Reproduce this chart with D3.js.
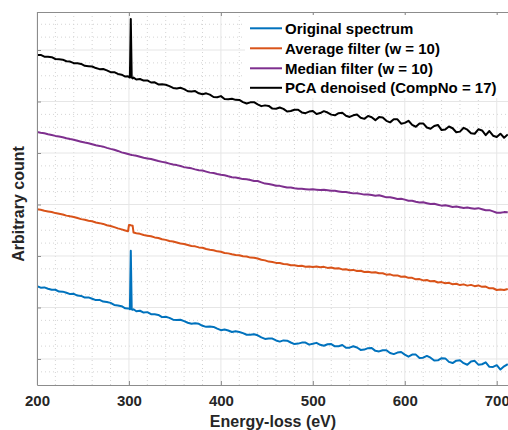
<!DOCTYPE html>
<html>
<head>
<meta charset="utf-8">
<script src="https://cdn.jsdelivr.net/npm/d3@7"></script>
<style>
  html, body { margin: 0; padding: 0; background: #fff; }
  svg { display: block; font-family: "Liberation Sans", Arial, Helvetica, sans-serif; }
</style>
</head>
<body>
<svg id="chart" width="508" height="430"></svg>
<script>
// Energy-loss axis (eV); extra samples around the 302 eV artefact
const energyLoss = [...d3.range(200, 297, 4), 299, 300, 301, 302, 303, 304, 305, ...d3.range(308, 713, 4)];

const originalSpectrum = [
  141.5, 138.5, 139, 136.5, 134.5, 134.5, 131, 130.8, 128.7, 126,
  126.5, 123.2, 122.5, 119.2, 119.6, 117, 114.4, 114.8, 111.5, 110.5,
  109, 105, 104, 102.5, 98.5, 98, 98, 96.5, 210, 96.2,
  95.4, 96.5, 92.8, 93.7, 90.1, 91, 86.9, 86.8, 85.6, 81.3,
  82, 79.9, 76.3, 75.7, 76.1, 73.5, 70.4, 68.3, 69.2, 68.4,
  64.5, 62.4, 63.3, 62.3, 58.9, 56, 57.4, 55.3, 52.4, 53.7,
  52.5, 50.3, 47.1, 46.9, 48.2, 46, 42, 39, 39.9, 39.7,
  36, 33.8, 36.1, 35.5, 32, 29, 29.9, 31.8, 31.8, 27.9,
  29.5, 31.3, 27.6, 25.8, 28.6, 29, 24.7, 24.9, 27.1, 21.8,
  22, 24.7, 22.4, 17.6, 18.3, 21, 21.4, 15.8, 14.7, 17,
  17, 11.5, 9.5, 12.5, 13.5, 8.5, 4.6, 8.7, 8.5, 2,
  2.5, 6, 2.5, -3, -2.5, 1.5, 1.2, -5.6, -7.9, -3.2,
  -2.5, -8.1, -11.2, -4.7, -3.6, -11, -10.2, -6.4, -15.3, -15.4,
  -12, -20.5, -14.3, -10
];

const averageFiltered = [
  291, 289.8, 287.7, 286.5, 285.4, 283.3, 282, 280.6, 278.4, 277,
  275.8, 273.7, 271.6, 270.4, 268.6, 267.4, 265.1, 263.8, 262.3, 259.8,
  258.3, 256, 253.7, 251.7, 249.5, 248, 260, 260, 259.6, 259.4,
  259, 245.5, 244.3, 243, 240.8, 239.5, 238.3, 236.1, 234.9, 232.4,
  231.3, 229.1, 228.3, 226.2, 224.2, 223.3, 221.4, 219.5, 218.7, 216.7,
  215.9, 213.6, 212.3, 211.3, 209, 208.2, 205.9, 205.1, 203.4, 201.9,
  201.5, 199.6, 198.9, 196.9, 196.6, 195, 192.6, 191.5, 189.1, 188.4,
  186.6, 186.4, 184.3, 184, 181.9, 181.9, 180.7, 180.9, 179.3, 179.7,
  178.5, 179.5, 178.2, 178.9, 176.9, 177.5, 175.9, 176.1, 174, 174.2,
  172.4, 173, 170.9, 171.3, 169, 169.6, 168, 168.6, 166.5, 166.5,
  163.7, 164.4, 161.9, 162.3, 159.6, 160.2, 157.6, 157.6, 154.7, 155.1,
  152.6, 153.5, 150.8, 151.4, 148.5, 149.3, 147.1, 147.9, 145.2, 146,
  143.5, 144.9, 142.5, 143.9, 141.4, 142.9, 140.1, 140.7, 137.2, 137.4,
  134, 135, 133.9, 136
];

const medianFiltered = [
  441, 439.5, 438.3, 436.5, 435, 433.2, 432, 430.6, 428.7, 427,
  425.8, 423.7, 421.7, 420.2, 419, 417, 415.1, 413.8, 412.3, 410,
  408, 406.3, 404, 401.2, 399.5, 398, 397.5, 397, 396.6, 396.2,
  395.9, 395.5, 394.6, 392.7, 390.8, 389.5, 388.3, 386.3, 384.3, 382.8,
  381.4, 379.4, 377.5, 376.5, 374.6, 372.6, 371.4, 370.2, 368.2, 366.6,
  365.9, 363.9, 361.9, 361.3, 359.4, 357.7, 356.8, 354.8, 353, 352.5,
  351, 349.3, 349, 347.4, 345.8, 345.5, 343, 340.6, 339.9, 338.2,
  336.5, 336.2, 334.6, 333, 333, 331.5, 330.5, 330.8, 329.8, 328.9,
  329.5, 328.8, 328, 328.8, 327.6, 326.5, 326.8, 325.4, 324.1, 324.3,
  323, 321.6, 322, 320.6, 319.2, 319.5, 318.4, 317.2, 317.9, 316,
  313.9, 314.2, 312.5, 310.8, 311.1, 309.5, 307.4, 307.4, 305.5, 303.9,
  304.2, 302.5, 300.8, 301.3, 299.5, 297.8, 298.5, 296.9, 295.3, 296,
  294.5, 293.1, 294.1, 292.8, 291.6, 292.9, 290.8, 288.7, 289, 286.6,
  284, 284, 285.2, 285
];

const pcaDenoised = [
  590.5, 590.5, 587, 587, 586, 582.5, 582, 581.3, 578.2, 577.5,
  574.5, 574.2, 573, 569.2, 568.6, 568, 564.9, 562.8, 563, 560.5,
  557, 557, 553.5, 552, 548.5, 549, 547.5, 546.5, 660, 546.7,
  544.9, 546.5, 542.8, 543.7, 540.6, 541, 536.9, 537.3, 533.1, 533.3,
  532.5, 529.9, 526.3, 525.2, 526.6, 524, 519.9, 519.3, 520.2, 515.9,
  514, 515.9, 513.3, 508.8, 508.4, 510.5, 504.9, 504.3, 505.4, 503.2,
  503, 498.8, 496.1, 498.4, 498.7, 494.5, 491, 492.5, 491.4, 486.2,
  486, 488.3, 485.6, 480.5, 481.5, 484, 483.9, 478.8, 477.3, 480.4,
  481.5, 475.8, 477.6, 481.3, 478.6, 474.5, 473.2, 477.4, 478.1, 472.3,
  470, 473.2, 474.9, 468.6, 466.3, 472, 469.4, 463.8, 469.7, 469,
  462.5, 459.5, 465.5, 465.5, 457, 458.5, 462.6, 454.7, 451, 457.5,
  457.5, 449.5, 447, 452.5, 454.5, 444.5, 445.7, 451.4, 448.1, 440.3,
  441.5, 448.9, 445.3, 438.3, 437.4, 446, 443.8, 434.6, 442.7, 433.6,
  431, 437.5, 429.7, 436
];

const seriesNames = ["Original spectrum", "Average filter (w = 10)", "Median filter (w = 10)", "PCA denoised (CompNo = 17)"];
const seriesColors = ["#0072BD", "#D95319", "#7E2F8E", "#000000"];
const xTicks = [200, 300, 400, 500, 600, 700];
const yTicks = [0, 100, 200, 300, 400, 500, 600];

const allSeries = [originalSpectrum, averageFiltered, medianFiltered, pcaDenoised];

const svg = d3.select("#chart");
const plotL = 37, plotT = 12, plotR = 511, plotB = 385;

const x = d3.scaleLinear().domain([200, 715.5]).range([plotL, plotR]);
const y = d3.scaleLinear().domain([-50.5, 673.8]).range([plotB, plotT]);

// Minor grid (dotted)
const minorX = d3.range(220, 716, 20).filter(v => v % 100 !== 0);
const minorY = d3.range(-25, 674, 25).filter(v => v % 100 !== 0);
const grid = svg.append("g");
grid.selectAll(".mx").data(minorX).join("line")
  .attr("x1", d => x(d)).attr("x2", d => x(d))
  .attr("y1", plotT).attr("y2", plotB)
  .attr("stroke", "#d4d4d4").attr("stroke-width", 1)
  .attr("stroke-dasharray", "1,3");
grid.selectAll(".my").data(minorY).join("line")
  .attr("x1", plotL).attr("x2", plotR)
  .attr("y1", d => y(d)).attr("y2", d => y(d))
  .attr("stroke", "#d4d4d4").attr("stroke-width", 1)
  .attr("stroke-dasharray", "1,3");
// Major grid
grid.selectAll(".gx").data(xTicks).join("line")
  .attr("x1", d => x(d)).attr("x2", d => x(d))
  .attr("y1", plotT).attr("y2", plotB)
  .attr("stroke", "#e6e6e6").attr("stroke-width", 1);
grid.selectAll(".gy").data(yTicks).join("line")
  .attr("x1", plotL).attr("x2", plotR)
  .attr("y1", d => y(d)).attr("y2", d => y(d))
  .attr("stroke", "#e6e6e6").attr("stroke-width", 1);

// Curves
svg.append("clipPath").attr("id", "plotClip")
  .append("rect").attr("x", plotL).attr("y", plotT)
  .attr("width", plotR - plotL).attr("height", plotB - plotT);

const line = d3.line()
  .x((d, i) => x(energyLoss[i]))
  .y(d => y(d));

const curves = svg.append("g").attr("clip-path", "url(#plotClip)");
allSeries.forEach((s, k) => {
  curves.append("path")
    .datum(s)
    .attr("d", line)
    .attr("fill", "none")
    .attr("stroke", seriesColors[k])
    .attr("stroke-width", 2)
    .attr("stroke-linejoin", "round");
});

// Axes
const axisColor = "#8c8c8c";
const xAxis = svg.append("g").attr("transform", `translate(0,${plotB})`)
  .call(d3.axisBottom(x).tickValues(xTicks).tickSizeInner(-4).tickSizeOuter(0).tickPadding(10));
const xAxisTop = svg.append("g").attr("transform", `translate(0,${plotT})`)
  .call(d3.axisTop(x).tickValues(xTicks).tickSizeInner(-4).tickSizeOuter(0).tickFormat(""));
const yAxis = svg.append("g").attr("transform", `translate(${plotL},0)`)
  .call(d3.axisLeft(y).tickValues(yTicks).tickSizeInner(-4).tickSizeOuter(0).tickFormat(""));
[xAxis, xAxisTop, yAxis].forEach(g => {
  g.select(".domain").attr("stroke", axisColor).attr("stroke-width", 1);
  g.selectAll(".tick line").attr("stroke", axisColor);
});
xAxis.selectAll(".tick text")
  .attr("fill", "#262626")
  .attr("font-size", 15)
  .attr("font-weight", "bold")
  .attr("font-family", "'Liberation Sans', Arial, sans-serif");

// Axis titles
svg.append("text")
  .attr("x", 273).attr("y", 427)
  .attr("text-anchor", "middle")
  .attr("font-size", 16).attr("font-weight", "bold").attr("fill", "#262626")
  .text("Energy-loss (eV)");
svg.append("text")
  .attr("transform", "translate(24,204) rotate(-90)")
  .attr("text-anchor", "middle")
  .attr("font-size", 16).attr("font-weight", "bold").attr("fill", "#262626")
  .text("Arbitrary count");

// Legend
const legend = svg.append("g");
legend.append("rect")
  .attr("x", 245).attr("y", 15).attr("width", 263).attr("height", 83)
  .attr("fill", "#fff");
const rowY = [28.3, 48.3, 68.3, 87.8];
seriesNames.forEach((name, k) => {
  legend.append("line")
    .attr("x1", 250).attr("x2", 282)
    .attr("y1", rowY[k]).attr("y2", rowY[k])
    .attr("stroke", seriesColors[k]).attr("stroke-width", 2);
  legend.append("text")
    .attr("x", 285).attr("y", rowY[k]).attr("dy", "0.36em")
    .attr("font-size", 15).attr("font-weight", "bold").attr("fill", "#000")
    .text(name);
});
</script>
</body>
</html>
